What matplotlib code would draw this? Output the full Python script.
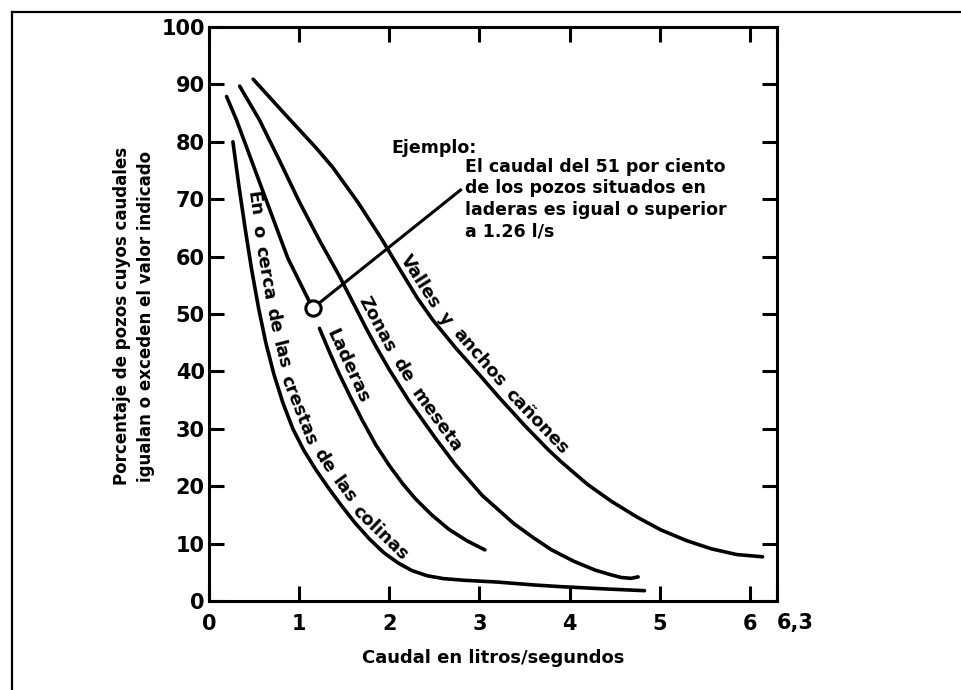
import numpy as np
import matplotlib.pyplot as plt
from matplotlib.lines import Line2D
from matplotlib.transforms import IdentityTransform

plt.rcParams['font.family'] = ['DejaVu Sans']
plt.rcParams['font.weight'] = 'bold'

# curvas (caudal en l/s, porcentaje)
crestas_x = [0.265, 0.33, 0.40, 0.47, 0.55, 0.63, 0.72, 0.82, 0.93, 1.05, 1.18, 1.32, 1.47, 1.62,
	1.78, 1.94, 2.10, 2.25, 2.42, 2.60, 2.84, 3.20, 3.60, 3.90, 4.40, 4.83]
crestas_y = [80.0, 72.5, 65.0, 58.0, 51.0, 45.0, 39.5, 34.5, 30.0, 26.3, 23.0, 19.8, 16.6, 13.6,
	10.8, 8.4, 6.6, 5.3, 4.4, 3.9, 3.6, 3.3, 2.8, 2.5, 2.1, 1.8]

laderas_sup_x = [0.195, 0.305, 0.64, 0.875, 1.15]
laderas_sup_y = [87.9, 83.8, 69.6, 59.7, 51.0]
laderas_inf_x = [1.225, 1.33, 1.44, 1.57, 1.70, 1.85, 2.00, 2.15, 2.29, 2.47, 2.66, 2.86, 3.06]
laderas_inf_y = [47.5, 43.6, 39.7, 35.5, 31.5, 27.2, 23.6, 20.4, 17.8, 15.0, 12.5, 10.5, 8.9]

meseta_x = [0.34, 0.56, 0.78, 1.00, 1.22, 1.45, 1.60, 1.74, 1.85, 2.00, 2.22, 2.51, 2.73, 3.03,
	3.38, 3.60, 3.80, 4.05, 4.28, 4.45, 4.57, 4.68, 4.76]
meseta_y = [89.7, 83.8, 76.8, 69.6, 63.0, 56.5, 51.9, 47.6, 44.4, 40.3, 34.8, 28.4, 23.8, 18.4,
	13.5, 11.0, 8.9, 6.9, 5.4, 4.6, 4.1, 3.95, 4.2]

valles_x = [0.49, 0.89, 1.19, 1.37, 1.65, 1.91, 2.10, 2.31, 2.48, 2.73, 3.00, 3.21, 3.50, 3.76,
	3.91, 4.20, 4.46, 4.75, 5.01, 5.30, 5.57, 5.85, 6.14]
valles_y = [90.9, 84.0, 78.9, 75.6, 69.5, 63.2, 58.2, 52.8, 49.0, 44.2, 39.4, 35.6, 30.6, 26.4,
	24.2, 20.3, 17.4, 14.6, 12.4, 10.5, 9.1, 8.1, 7.7]

ejemplo_x, ejemplo_y = 1.15, 51.0
flecha_x, flecha_y = 2.79, 71.6

x_ticks = [0, 1, 2, 3, 4, 5, 6, 6.3]
x_labels = ['0', '1', '2', '3', '4', '5', '6', '6,3']
y_ticks = [0, 10, 20, 30, 40, 50, 60, 70, 80, 90, 100]


def text_along(ax, xs, ys, text, y_start, offset=6, gap=9, size=13):
	# pone cada palabra sobre la curva, girada segun la tangente
	r = ax.figure.canvas.get_renderer()
	pts = ax.transData.transform(np.column_stack([xs, ys]))
	arc = np.concatenate([[0], np.cumsum(np.hypot(np.diff(pts[:, 0]), np.diff(pts[:, 1])))])
	ypx = ax.transData.transform((0, y_start))[1]
	i = int(np.argmax(pts[:, 1] <= ypx))
	f = (pts[i-1, 1] - ypx) / (pts[i-1, 1] - pts[i, 1])
	s = arc[i-1] + f * (arc[i] - arc[i-1])
	for w in text.split():
		t = ax.text(0, 0, w, fontsize=size, fontweight='bold', ha='center', va='baseline',
			rotation_mode='anchor', transform=IdentityTransform())
		wd = t.get_window_extent(r).width
		x0, y0 = np.interp(s, arc, pts[:, 0]), np.interp(s, arc, pts[:, 1])
		x1, y1 = np.interp(s + wd, arc, pts[:, 0]), np.interp(s + wd, arc, pts[:, 1])
		dx, dy = x1 - x0, y1 - y0
		n = np.hypot(dx, dy)
		xm = np.interp(s + wd/2, arc, pts[:, 0])
		ym = np.interp(s + wd/2, arc, pts[:, 1])
		t.set_position((xm - dy/n*offset, ym + dx/n*offset))
		t.set_rotation(np.degrees(np.arctan2(dy, dx)))
		s = s + wd + gap


fig = plt.figure(figsize=(9.61, 6.90), dpi=100)
ax = fig.add_axes([209/961, 1-601/690, (777-209)/961, (601-27)/690])

lw = 2.6
for xs, ys in [(crestas_x, crestas_y), (laderas_sup_x, laderas_sup_y), (laderas_inf_x, laderas_inf_y),
		(meseta_x, meseta_y), (valles_x, valles_y)]:
	ax.plot(xs, ys, color='black', lw=lw, solid_capstyle='round', solid_joinstyle='round')

ax.plot([ejemplo_x, flecha_x], [ejemplo_y, flecha_y], color='black', lw=2.2)
ax.plot([ejemplo_x], [ejemplo_y], 'o', ms=11, mfc='white', mec='black', mew=2.2, zorder=5)

ax.set_xlim(0, 6.3)
ax.set_ylim(0, 100)
ax.set_xticks(x_ticks, x_labels)
ax.set_yticks(y_ticks)
ax.tick_params(direction='in', length=11, width=2.2, top=True, right=True, labelsize=15)
ax.tick_params(axis='x', pad=9)
ax.tick_params(axis='y', pad=3)
ax.get_xticklabels()[-1].set_horizontalalignment('left')
for sp in ax.spines.values():
	sp.set_linewidth(2.2)

# textos sobre las curvas
text_along(ax, crestas_x, crestas_y, 'En o cerca de las crestas de las colinas', 71, offset=7, gap=9)
text_along(ax, laderas_inf_x, laderas_inf_y, 'Laderas', 46.5, offset=6)
text_along(ax, meseta_x, meseta_y, 'Zonas de meseta', 52, offset=6, gap=11)
text_along(ax, valles_x, valles_y, 'Valles y anchos cañones', 59, offset=6, gap=10)

ax.text(2.02, 78.0, 'Ejemplo:', fontsize=12.5, va='baseline', ha='left')
ax.text(2.84, 77.2, 'El caudal del 51 por ciento\nde los pozos situados en\nladeras es igual o superior\na 1.26 l/s',
	fontsize=12.5, va='top', ha='left', linespacing=1.25)

fig.text(0.513, 1-658/690, 'Caudal en litros/segundos', fontsize=13, ha='center', va='center')
fig.text(134/961, 1-316/690, 'Porcentaje de pozos cuyos caudales\nigualan o exceden el valor indicado',
	fontsize=12, rotation=90, ha='center', va='center', linespacing=1.45)

# marco de la pagina escaneada
fig.add_artist(Line2D([12/961, 1], [1-12/690, 1-12/690], color='black', lw=1.6, transform=fig.transFigure))
fig.add_artist(Line2D([12/961, 12/961], [0, 1-12/690], color='black', lw=1.6, transform=fig.transFigure))

fig.savefig('out.png', dpi=100)
